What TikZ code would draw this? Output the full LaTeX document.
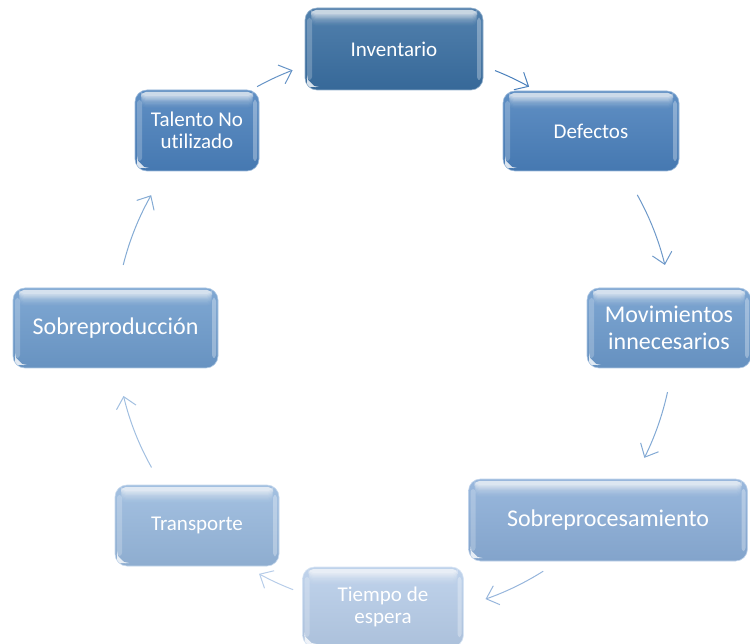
\documentclass[tikz,border=0pt]{standalone}
\usepackage{fontspec}
\setmainfont{Carlito}[Ligatures=NoCommon]
\usetikzlibrary{arrows.meta}

\definecolor{cInv}{HTML}{3A6FA2}
\definecolor{cDef}{HTML}{4A80BC}
\definecolor{cMov}{HTML}{6C9ACC}
\definecolor{cSpr}{HTML}{8BAED8}
\definecolor{cTie}{HTML}{B7CDE9}
\definecolor{cTra}{HTML}{97B8DD}
\definecolor{cSpd}{HTML}{6E9CCD}
\definecolor{cTal}{HTML}{4A80BC}

\tikzset{
  glossbox/.style={
    rounded corners=12pt, inner sep=0pt, align=center, text=white,
    draw=#1!55!white, line width=0.6pt,
    top color=#1!88!white, bottom color=#1!94!black,
    path picture={
      % bright band along the top edge, fading downwards in steps
      \foreach \k/\op in {0/0.26,1/0.2,2/0.16,3/0.13,4/0.1,5/0.08,6/0.06,7/0.05,8/0.04,9/0.03}{
        \fill[white, opacity=\op, rounded corners=5pt]
          ([shift={(6,2)}]path picture bounding box.north west)
          rectangle ([shift={(-6,6+1.3*\k)}]path picture bounding box.north east);
      }
      % light rims on the left and right sides
      \fill[white, opacity=0.22, rounded corners=3pt]
        ([shift={(2,10)}]path picture bounding box.north west)
        rectangle ([shift={(7,-10)}]path picture bounding box.south west);
      \fill[white, opacity=0.3, rounded corners=3pt]
        ([shift={(-2,10)}]path picture bounding box.north east)
        rectangle ([shift={(-6,-10)}]path picture bounding box.south east);
      % small bevel in the lower left corner
      \fill[white, opacity=0.8]
        ([shift={(2,-11)}]path picture bounding box.south west)
        -- ([shift={(10,-3)}]path picture bounding box.south west)
        -- ([shift={(2,-3)}]path picture bounding box.south west) -- cycle;
    }},
  small/.style={font=\fontsize{21}{22}\selectfont},
  large/.style={font=\fontsize{24}{27}\selectfont},
  cyc/.style={line width=1pt, draw=#1,
    -{Straight Barb[length=11pt, width=20pt, line width=1pt]}},
}

\begin{document}
\begin{tikzpicture}[x=1pt, y=-1pt]
\useasboundingbox (0,0) rectangle (750,644);

% boxes of the cycle
\node[glossbox=cInv, small, minimum width=178, minimum height=82] (inv) at (394,49) {Inventario};
\node[glossbox=cDef, small, minimum width=176, minimum height=80] (def) at (591,131) {Defectos};
\node[glossbox=cMov, large, minimum width=164, minimum height=80] (mov) at (669,328) {Movimientos\\innecesarios};
\node[glossbox=cSpr, large, minimum width=279, minimum height=82] (spr) at (608,520) {Sobreprocesamiento};
\node[glossbox=cTie, small, minimum width=161, minimum height=80] (tie) at (383,607) {Tiempo de\\espera};
\node[glossbox=cTra, small, minimum width=164, minimum height=81] (tra) at (197,525.5) {Transporte};
\node[glossbox=cSpd, large, minimum width=205, minimum height=80] (spd) at (115.5,328) {Sobreproducción};
\node[glossbox=cTal, small, minimum width=124, minimum height=81] (tal) at (197,130.5) {Talento No\\utilizado};

% curved arrows along the circle through the boxes
\coordinate (c) at (392,332);
\draw[cyc=cTal!85!white] ([shift={(-118.8:280)}]c) arc[start angle=-118.8, end angle=-110.8, radius=280];
\draw[cyc=cDef] ([shift={(-68.5:281)}]c) arc[start angle=-68.5, end angle=-60.8, radius=281];
\draw[cyc=cDef!80!white] ([shift={(-29.2:281)}]c) arc[start angle=-29.2, end angle=-13.8, radius=281];
\draw[cyc=cMov!85!white] ([shift={(12.3:282)}]c) arc[start angle=12.3, end angle=26.5, radius=282];
\draw[cyc=cSpr!90!white] ([shift={(57.7:283)}]c) arc[start angle=57.7, end angle=70.7, radius=283];
\draw[cyc=cTie] ([shift={(111:276)}]c) arc[start angle=111, end angle=118.8, radius=276];
\draw[cyc=cTra!90!white] ([shift={(150.6:276)}]c) arc[start angle=150.6, end angle=166.6, radius=276];
\draw[cyc=cSpd!85!white] ([shift={(-166:277)}]c) arc[start angle=-166, end angle=-150.4, radius=277];
\end{tikzpicture}
\end{document}
